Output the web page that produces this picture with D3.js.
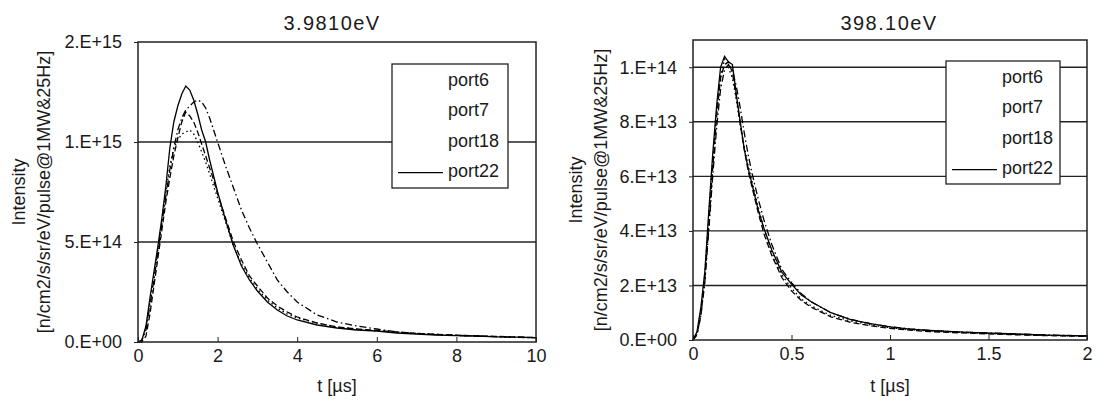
<!DOCTYPE html>
<html>
<head>
<meta charset="utf-8">
<script src="https://cdn.jsdelivr.net/npm/d3@7"></script>
<style>
  body { margin: 0; background: #fff; }
  svg { display: block; font-family: "Liberation Sans", Arial, sans-serif; }
  text { fill: #1a1a1a; }
</style>
</head>
<body>
<svg id="chart" width="1097" height="403"></svg>
<script>
// ---- data: left panel (3.9810eV), intensity in units of 1E13 ----
const seriesNames = ["port6", "port7", "port18", "port22"];

const tLow = [0, 0.1, 0.2, 0.3, 0.4, 0.5, 0.6, 0.7, 0.8, 0.9, 1.0, 1.1, 1.2, 1.3, 1.4, 1.5, 1.6, 1.7, 1.8, 1.9, 2.0,
  2.2, 2.4, 2.6, 2.8, 3.0, 3.25, 3.5, 3.75, 4.0, 4.5, 5.0, 5.5, 6.0, 6.5, 7.0, 7.5, 8.0, 8.5, 9.0, 9.5, 10];
const lowPort6 = [0, 1, 7, 20, 33, 46, 60, 75, 88, 97, 101, 104, 105, 106, 104, 100, 95, 90, 84, 78, 72,
  60, 48, 39, 32, 26.5, 21, 17, 14, 12, 9.5, 7.5, 6.5, 5.5, 5, 4.2, 3.8, 3.3, 3, 2.7, 2.4, 2.1];
const lowPort7 = [0, 0, 3, 14, 28, 42, 56, 70, 82, 93, 102, 110, 115, 113, 110, 105, 99, 93, 87, 81, 74,
  62, 50, 41, 33, 28, 22, 18, 15, 12.5, 9.5, 7.5, 6.5, 5.8, 5, 4.3, 3.8, 3.4, 3, 2.8, 2.5, 2.2];
const lowPort18 = [0, 1, 6, 18, 31, 45, 59, 73, 86, 97, 106, 112, 116, 118, 120, 121, 120, 117, 112, 106, 100,
  88, 77, 66, 57, 49, 40, 31, 25, 20, 13.5, 10, 8, 6.5, 5, 4.3, 3.7, 3.3, 3, 2.7, 2.4, 2.1];
const lowPort22 = [0, 1, 8, 22, 35, 48, 62, 78, 97, 110, 118, 124, 128, 126, 121, 114, 106, 100, 91, 83, 75,
  61, 48, 38, 31, 25.5, 20, 16, 13, 11, 8.5, 7, 6, 5.5, 4.5, 4, 3.5, 3.2, 3, 2.6, 2.4, 2.2];
const lowUnit = 1e13;
const lowYTicks = [0, 5e14, 1e15, 1.5e15];
const lowYLabels = ["0.E+00", "5.E+14", "1.E+15", "2.E+15"];
const lowXTicks = [0, 2, 4, 6, 8, 10];
const lowXLabels = ["0", "2", "4", "6", "8", "10"];

// ---- data: right panel (398.10eV), intensity in units of 1E12 ----
const tHigh = [0, 0.02, 0.04, 0.06, 0.08, 0.1, 0.12, 0.14, 0.16, 0.18, 0.2, 0.22, 0.24, 0.26, 0.28, 0.3,
  0.33, 0.36, 0.4, 0.45, 0.5, 0.55, 0.6, 0.7, 0.8, 0.9, 1.0, 1.1, 1.2, 1.4, 1.6, 1.8, 2.0];
const highPort6 = [0, 2, 10, 24, 45, 66, 84, 97, 103, 100, 96, 88, 79, 71, 64, 58,
  49, 41, 32, 24, 19, 15, 12.5, 9, 7, 5.5, 4.5, 3.8, 3.3, 2.6, 2.1, 1.7, 1.4];
const highPort7 = [0, 2, 9, 22, 42, 63, 82, 96, 101, 102, 98, 89, 79, 70, 62, 56,
  47, 39, 31, 23, 18, 14.5, 12, 8.5, 6.5, 5.2, 4.3, 3.6, 3.1, 2.5, 2.0, 1.6, 1.3];
const highPort18 = [0, 2, 9, 21, 40, 60, 78, 92, 99, 101, 99, 93, 85, 76, 68, 61,
  52, 44, 35, 26, 21, 17, 14, 10, 7.6, 6, 4.9, 4.1, 3.5, 2.8, 2.3, 1.8, 1.5];
const highPort22 = [0, 3, 12, 25, 47, 68, 86, 100, 104, 102, 101, 90, 80, 70, 63, 57,
  48, 41, 33, 25, 20.5, 16.5, 14, 10, 7.5, 6, 4.8, 4, 3.5, 2.8, 2.3, 1.8, 1.5];
const highUnit = 1e12;
const highYTicks = [0, 2e13, 4e13, 6e13, 8e13, 1e14];
const highYLabels = ["0.E+00", "2.E+13", "4.E+13", "6.E+13", "8.E+13", "1.E+14"];
const highXTicks = [0, 0.5, 1, 1.5, 2];
const highXLabels = ["0", "0.5", "1", "1.5", "2"];

const dashes = { port6: "1.5,3", port7: "6,3", port18: "7,3,1.5,3", port22: null };

const svg = d3.select("#chart");
svg.append("rect").attr("width", 1097).attr("height", 403).attr("fill", "#fff");

function drawPanel(cfg) {
  const x = d3.scaleLinear().domain(cfg.xDomain).range([cfg.left, cfg.right]);
  const y = d3.scaleLinear().domain(cfg.yDomain).range([cfg.bottom, cfg.top]);
  const g = svg.append("g");

  // horizontal gridlines
  g.selectAll("line.grid")
    .data(cfg.yTicks.filter(v => v > 0 && v < cfg.yDomain[1]))
    .enter().append("line")
    .attr("x1", cfg.left).attr("x2", cfg.right)
    .attr("y1", d => y(d)).attr("y2", d => y(d))
    .attr("stroke", "#222").attr("stroke-width", 1.4);

  // y axis
  const yAxis = d3.axisLeft(y).tickValues(cfg.yTicks)
    .tickFormat((d, i) => cfg.yLabels[i]).tickSize(4).tickPadding(12);
  const ya = g.append("g").attr("transform", `translate(${cfg.left},0)`).call(yAxis);
  ya.select(".domain").remove();
  ya.selectAll("line").attr("stroke", "#222");
  ya.selectAll("text").attr("font-size", 18).attr("fill", "#1a1a1a");

  // x axis with inward ticks
  const xAxis = d3.axisBottom(x).tickValues(cfg.xTicks)
    .tickFormat((d, i) => cfg.xLabels[i]).tickSize(-5).tickPadding(7);
  const xa = g.append("g").attr("transform", `translate(0,${cfg.bottom})`).call(xAxis);
  xa.select(".domain").remove();
  xa.selectAll("line").attr("stroke", "#222");
  xa.selectAll("text").attr("font-size", 18).attr("fill", "#1a1a1a");

  // curves
  const line = d3.line().x(d => x(d[0])).y(d => y(d[1]));
  cfg.series.forEach((vals, k) => {
    const pts = cfg.t.map((t, i) => [t, vals[i] * cfg.unit]);
    g.append("path").datum(pts)
      .attr("d", line)
      .attr("fill", "none")
      .attr("stroke", "#000")
      .attr("stroke-width", 1.3)
      .attr("stroke-dasharray", dashes[seriesNames[k]]);
  });

  // frame
  g.append("rect")
    .attr("x", cfg.left).attr("y", cfg.top)
    .attr("width", cfg.right - cfg.left).attr("height", cfg.bottom - cfg.top)
    .attr("fill", "none").attr("stroke", "#222").attr("stroke-width", 1.5);

  // title
  g.append("text")
    .attr("x", cfg.titleX).attr("y", 30)
    .attr("text-anchor", "middle").attr("font-size", 20)
    .attr("letter-spacing", 1.4)
    .text(cfg.title);

  // x label
  g.append("text")
    .attr("x", (cfg.left + cfg.right) / 2).attr("y", 392)
    .attr("text-anchor", "middle").attr("font-size", 18)
    .text("t [\u00b5s]");

  // y label (two lines)
  const cy = (cfg.top + cfg.bottom) / 2;
  g.append("text")
    .attr("transform", `translate(${cfg.yLab1},${cy}) rotate(-90)`)
    .attr("text-anchor", "middle").attr("font-size", 18)
    .text("Intensity");
  g.append("text")
    .attr("transform", `translate(${cfg.yLab2},${cy}) rotate(-90)`)
    .attr("text-anchor", "middle").attr("font-size", 18)
    .text("[n/cm2/s/sr/eV/pulse@1MW&25Hz]");

  // legend
  const lg = g.append("g").attr("transform", `translate(${cfg.legX},${cfg.legY})`);
  lg.append("rect")
    .attr("width", cfg.legW).attr("height", cfg.legH)
    .attr("fill", "#fff").attr("stroke", "#222").attr("stroke-width", 1.3);
  seriesNames.forEach((name, i) => {
    const by = 22 + i * 30.4;
    if (name === "port22") {
      lg.append("line")
        .attr("x1", 6).attr("x2", 51)
        .attr("y1", by - 4.5).attr("y2", by - 4.5)
        .attr("stroke", "#000").attr("stroke-width", 1.3);
    }
    lg.append("text")
      .attr("x", 56).attr("y", by)
      .attr("font-size", 18)
      .text(name);
  });
}

drawPanel({
  left: 138, right: 536, top: 42, bottom: 342,
  xDomain: [0, 10], yDomain: [0, 1.5e15],
  xTicks: lowXTicks, xLabels: lowXLabels, yTicks: lowYTicks, yLabels: lowYLabels,
  t: tLow, unit: lowUnit,
  series: [lowPort6, lowPort7, lowPort18, lowPort22],
  title: "3.9810eV", titleX: 332,
  yLab1: 25, yLab2: 50,
  legX: 392, legY: 64, legW: 116, legH: 124
});

drawPanel({
  left: 693, right: 1087, top: 40, bottom: 340,
  xDomain: [0, 2], yDomain: [0, 1.1e14],
  xTicks: highXTicks, xLabels: highXLabels, yTicks: highYTicks, yLabels: highYLabels,
  t: tHigh, unit: highUnit,
  series: [highPort6, highPort7, highPort18, highPort22],
  title: "398.10eV", titleX: 889,
  yLab1: 582, yLab2: 607,
  legX: 946, legY: 61, legW: 114, legH: 123
});
</script>
</body>
</html>
